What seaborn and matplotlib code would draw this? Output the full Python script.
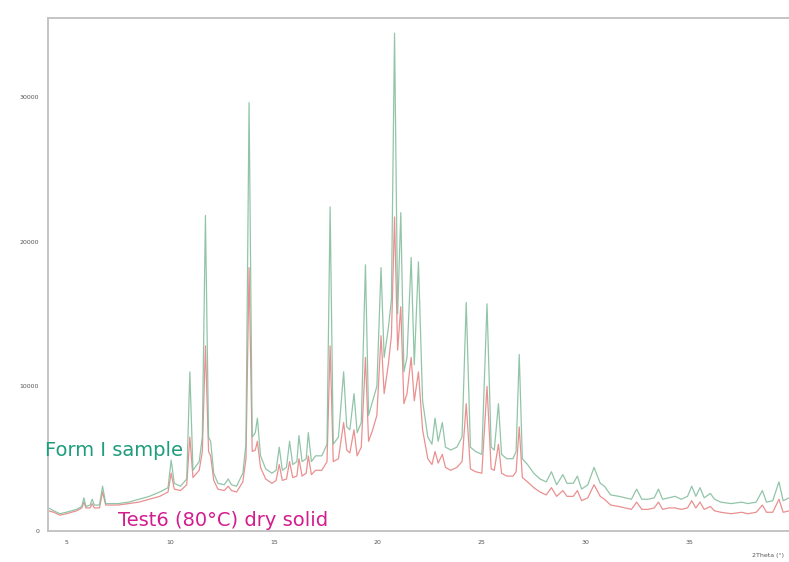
import matplotlib
matplotlib.use("Agg")
import matplotlib.pyplot as plt
import seaborn as sns
import pandas as pd
from matplotlib.ticker import MultipleLocator

# 2-theta / intensity vertices
form1_2theta = [4.15, 4.4, 4.7, 5.0, 5.5, 5.75, 5.85, 5.95, 6.15, 6.25, 6.35, 6.6, 6.75, 6.9, 7.5, 8.0,
                8.5, 9.0, 9.5, 9.9, 10.05, 10.2, 10.5, 10.8, 10.95, 11.1, 11.4, 11.55, 11.7, 11.85, 11.95,
                12.1, 12.3, 12.6, 12.8, 12.95, 13.2, 13.5, 13.65, 13.8, 13.95, 14.1, 14.2, 14.35, 14.6,
                14.9, 15.1, 15.25, 15.4, 15.6, 15.75, 15.9, 16.1, 16.2, 16.35, 16.55, 16.65, 16.8, 17.0,
                17.3, 17.55, 17.7, 17.85, 18.1, 18.35, 18.5, 18.65, 18.85, 19.0, 19.2, 19.4, 19.55, 19.75,
                19.95, 20.15, 20.3, 20.5, 20.65, 20.8, 20.95, 21.1, 21.25, 21.4, 21.6, 21.75, 21.95, 22.15,
                22.4, 22.6, 22.75, 22.9, 23.1, 23.25, 23.5, 23.8, 24.05, 24.25, 24.45, 24.7, 25.0, 25.25,
                25.45, 25.6, 25.8, 25.95, 26.2, 26.5, 26.65, 26.8, 26.95, 27.2, 27.5, 27.8, 28.1, 28.35,
                28.6, 28.9, 29.1, 29.4, 29.6, 29.8, 30.1, 30.4, 30.7, 30.9, 31.2, 31.6, 31.9, 32.2, 32.45,
                32.7, 33.0, 33.3, 33.5, 33.7, 34.0, 34.3, 34.6, 34.9, 35.1, 35.3, 35.5, 35.7, 36.0, 36.2,
                36.5, 37.0, 37.5, 37.8, 38.2, 38.5, 38.7, 39.0, 39.3, 39.5, 39.8]
form1_counts = [1600, 1400, 1200, 1300, 1500, 1700, 2300, 1700, 1800, 2200, 1800, 1800, 3100, 1900, 1900, 2000,
                2200, 2400, 2700, 3000, 4900, 3300, 3100, 3600, 11000, 4200, 4800, 6500, 21800, 6500, 6200,
                4000, 3300, 3200, 3600, 3200, 3100, 4000, 6000, 29600, 6500, 6800, 7800, 5200, 4300,
                4000, 4200, 5800, 4200, 4400, 6200, 4600, 4800, 6600, 4800, 5000, 6800, 4800, 5200,
                5200, 6000, 22400, 6000, 6500, 11000, 7200, 7000, 9500, 6800, 7500, 18400, 8000, 9000,
                10000, 18200, 12000, 14000, 16000, 34400, 15000, 22000, 11000, 12000, 18900, 11500, 18600, 9000,
                6500, 6000, 7800, 6200, 7500, 5800, 5600, 5800, 6500, 15800, 5800, 5500, 5300, 15700,
                5800, 5600, 8800, 5300, 5000, 5000, 5500, 12200, 5000, 4600, 4000, 3600, 3400, 4100,
                3200, 3900, 3300, 3300, 3800, 2900, 3200, 4400, 3300, 3100, 2500, 2400, 2300, 2200, 2900,
                2200, 2200, 2300, 2900, 2200, 2300, 2400, 2200, 2400, 3100, 2400, 3000, 2300, 2600, 2200,
                2000, 1900, 2000, 1900, 2000, 2800, 2000, 2100, 3400, 2100, 2300]

test6_2theta = form1_2theta
test6_counts = [1400, 1300, 1100, 1200, 1400, 1600, 2000, 1600, 1600, 1900, 1600, 1600, 2700, 1800, 1800, 1900,
                2000, 2200, 2400, 2700, 4000, 2900, 2800, 3200, 6500, 3700, 4200, 5500, 12800, 5500, 5200,
                3500, 2900, 2800, 3100, 2800, 2700, 3400, 5000, 18200, 5500, 5600, 6200, 4400, 3600,
                3300, 3500, 4600, 3500, 3600, 4800, 3700, 3800, 5000, 3800, 4000, 5200, 3900, 4200,
                4200, 4800, 12800, 4800, 5000, 7500, 5600, 5400, 7000, 5200, 5800, 12000, 6200, 7000,
                8000, 13500, 9500, 11500, 13500, 21700, 12500, 15500, 8800, 9500, 12000, 9000, 11000, 7000,
                5000, 4600, 5500, 4700, 5300, 4400, 4200, 4400, 4800, 8800, 4300, 4100, 4000, 10000,
                4300, 4200, 6000, 4000, 3800, 3800, 4100, 7200, 3700, 3400, 3000, 2700, 2500, 3000,
                2400, 2800, 2400, 2400, 2800, 2100, 2300, 3200, 2400, 2200, 1800, 1700, 1600, 1500, 2000,
                1500, 1500, 1600, 2000, 1500, 1600, 1600, 1500, 1600, 2100, 1600, 2000, 1500, 1700, 1400,
                1300, 1200, 1300, 1200, 1300, 1800, 1300, 1300, 2200, 1300, 1400]

x_ticks = [5, 10, 15, 20, 25, 30, 35]
y_ticks = [0, 10000, 20000, 30000]

sns.set_style("white")
plt.rcParams["font.family"] = ["DejaVu Sans"]

fig = plt.figure(figsize=(7.89, 5.62), dpi=100)
ax = fig.add_axes([0.061, 0.055, 0.95, 0.913])

df_test6 = pd.DataFrame({"two_theta": test6_2theta, "counts": test6_counts})
df_form1 = pd.DataFrame({"two_theta": form1_2theta, "counts": form1_counts})
sns.lineplot(data=df_test6, x="two_theta", y="counts", ax=ax, color="#ea9090", lw=0.9, sort=False)
sns.lineplot(data=df_form1, x="two_theta", y="counts", ax=ax, color="#86bf9f", lw=0.9, sort=False, alpha=0.9)

ax.set_xlim(4.13, 40.2)
ax.set_ylim(0, 35450)
ax.set_xticks(x_ticks)
ax.set_yticks(y_ticks)
ax.xaxis.set_minor_locator(MultipleLocator(2.5))
ax.yaxis.set_minor_locator(MultipleLocator(5000))
ax.tick_params(which="both", direction="out", colors="#aaaaaa", labelcolor="#555555",
               labelsize=4.5, length=3, width=0.8)
ax.tick_params(which="minor", length=2)
ax.set_xlabel("")
ax.set_ylabel("")
for side in ["left", "bottom", "top"]:
    ax.spines[side].set_color("#c4c4c4")
    ax.spines[side].set_linewidth(1.4)
ax.spines["right"].set_visible(False)

fig.text(45 / 789, 1 - 450 / 562, "Form I sample", color="#1f9c7c", fontsize=14, va="center", ha="left")
fig.text(118 / 789, 1 - 520 / 562, "Test6 (80°C) dry solid", color="#d31c8e", fontsize=14, va="center", ha="left")
fig.text(752 / 789, 1 - 556 / 562, "2Theta (°)", color="#555555", fontsize=4.5, va="center", ha="left")

plt.savefig("out.png", dpi=100)
